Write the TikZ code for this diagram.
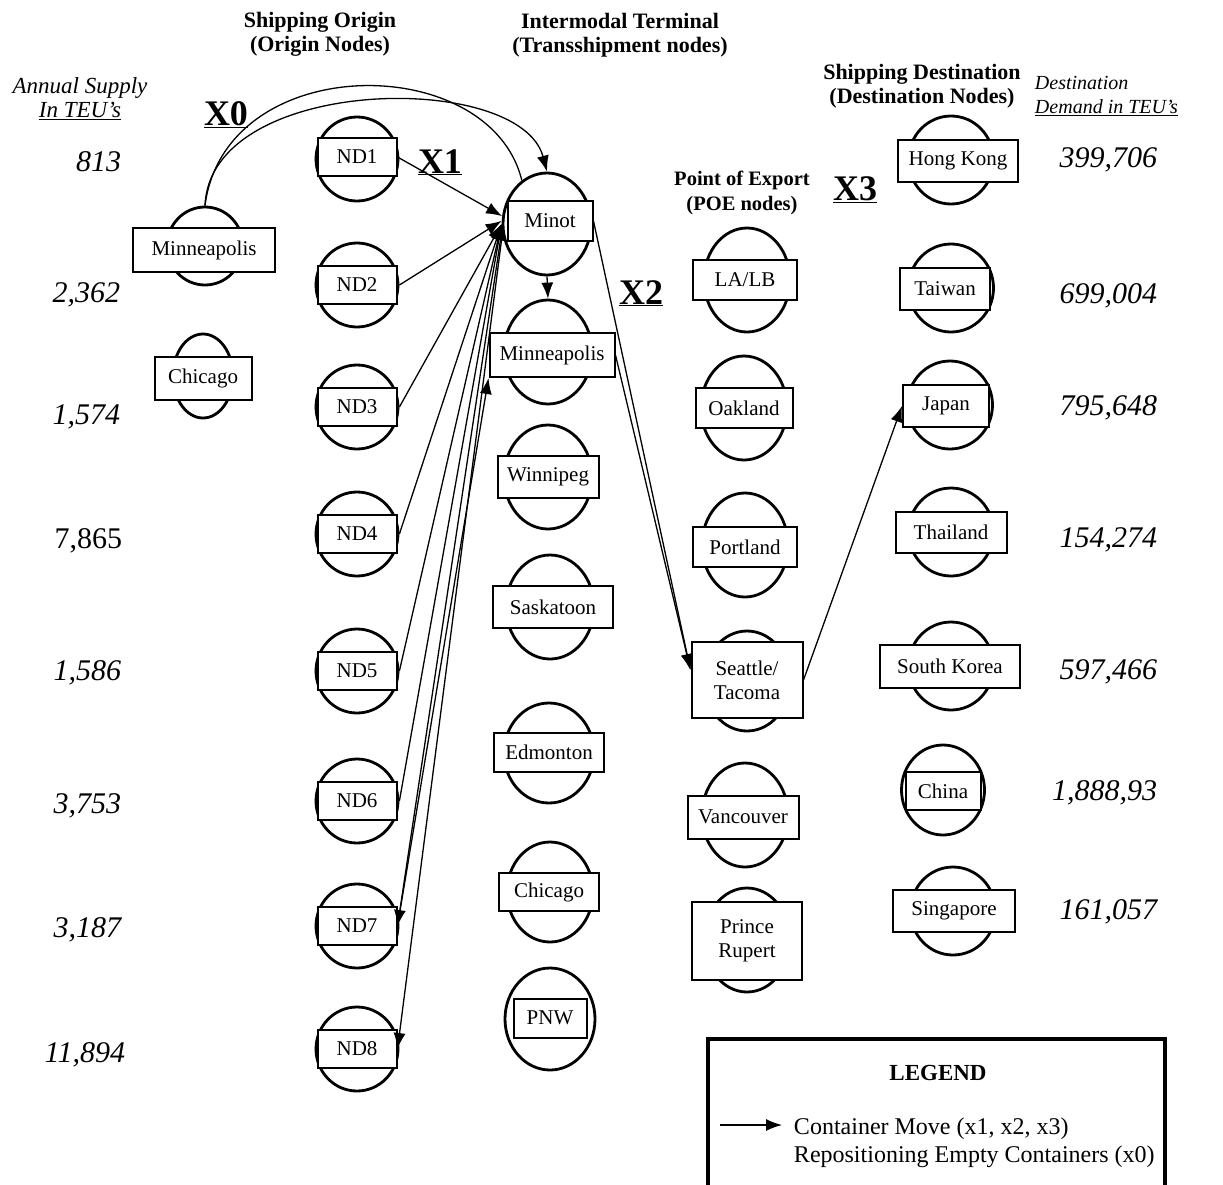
\documentclass[tikz,border=0pt]{standalone}
\usepackage{fontspec}
\setmainfont{Liberation Serif}
\usetikzlibrary{shapes,arrows.meta}

\begin{document}
\begin{tikzpicture}
[x=1pt,y=-1pt,line width=1.3pt,>={Latex[length=16pt,width=12pt]},
 ring/.style={draw,ellipse,line width=2.8pt,inner sep=0pt},
 tag/.style={draw,fill=white,line width=2pt,inner sep=0pt,align=center,font=\fontsize{21}{24}\selectfont},
 head/.style={align=center,font=\bfseries\fontsize{22}{24}\selectfont},
 side/.style={align=center,font=\itshape\fontsize{23}{24}\selectfont},
 amt/.style={font=\itshape\fontsize{30}{32}\selectfont},
 xlab/.style={anchor=base,font=\bfseries\fontsize{36}{38}\selectfont}]

\useasboundingbox (0,0) rectangle (1223,1184);

% headings
\node[head] (hOrig) at (320,34) {Shipping Origin\\(Origin Nodes)};
\node[head] (hTerm) at (620,35) {Intermodal Terminal\\(Transshipment nodes)};
\node[head,font=\bfseries\fontsize{20.5}{25}\selectfont] (hPoe) at (742,193) {Point of Export\\(POE nodes)};
\node[head] (hDest) at (922,86) {Shipping Destination\\(Destination Nodes)};
\node[side] (hSup) at (80,99) {Annual Supply\\\underline{In TEU's}};
\node[side,align=left,anchor=west,font=\itshape\fontsize{20}{24}\selectfont] (hDem) at (1031,96) {Destination\\\underline{Demand in TEU's}};

\node[xlab] (x0) at (226,125) {\underline{X0}};
\node[xlab] (x1) at (440,173) {\underline{X1}};
\node[xlab] (x2) at (641,304) {\underline{X2}};
\node[xlab] (x3) at (855,200) {\underline{X3}};

% supply
\node[amt,anchor=east] (s1) at (125,162) {813};
\node[amt,anchor=east] (s2) at (124,295) {2,362};
\node[amt,anchor=east] (s3) at (124,417) {1,574};
\node[amt,anchor=east,font=\upshape\fontsize{30}{32}\selectfont] (s4) at (126,541) {7,865};
\node[amt,anchor=east] (s5) at (125,673) {1,586};
\node[amt,anchor=east] (s6) at (125,806) {3,753};
\node[amt,anchor=east] (s7) at (125,930) {3,187};
\node[amt,anchor=east] (s8) at (129,1055) {11,894};

% demand
\node[amt,anchor=east] (d1) at (1161,160) {399,706};
\node[amt,anchor=east] (d2) at (1161,296) {699,004};
\node[amt,anchor=east] (d3) at (1161,408) {795,648};
\node[amt,anchor=east] (d4) at (1161,540) {154,274};
\node[amt,anchor=east] (d5) at (1161,672) {597,466};
\node[amt,anchor=east] (d6) at (1161,793) {1,888,93};
\node[amt,anchor=east] (d7) at (1161,912) {161,057};

% origin cities
\node[ring,minimum width=76pt,minimum height=78pt] (min0c) at (205,246) {};
\node[tag,minimum width=142pt,minimum height=44pt] (min0) at (204,250) {Minneapolis};
\node[ring,minimum width=60pt,minimum height=84pt] (chi0c) at (203,376) {};
\node[tag,minimum width=97pt,minimum height=43pt] (chi0) at (203,378) {Chicago};

% origin nodes
\node[ring,minimum width=82pt,minimum height=84pt] (nd1c) at (357,159) {};
\node[ring,minimum width=82pt,minimum height=84pt] (nd2c) at (357,285) {};
\node[ring,minimum width=82pt,minimum height=84pt] (nd3c) at (357,407) {};
\node[ring,minimum width=82pt,minimum height=84pt] (nd4c) at (357,534) {};
\node[ring,minimum width=82pt,minimum height=84pt] (nd5c) at (357,671) {};
\node[ring,minimum width=82pt,minimum height=84pt] (nd6c) at (357,801) {};
\node[ring,minimum width=82pt,minimum height=84pt] (nd7c) at (357,926) {};
\node[ring,minimum width=82pt,minimum height=84pt] (nd8c) at (357,1049) {};
\node[tag,minimum width=79pt,minimum height=38pt] (nd1) at (357,157) {ND1};
\node[tag,minimum width=79pt,minimum height=38pt] (nd2) at (357,285) {ND2};
\node[tag,minimum width=79pt,minimum height=38pt] (nd3) at (357,407) {ND3};
\node[tag,minimum width=79pt,minimum height=38pt] (nd4) at (357,534) {ND4};
\node[tag,minimum width=79pt,minimum height=38pt] (nd5) at (357,671) {ND5};
\node[tag,minimum width=79pt,minimum height=38pt] (nd6) at (357,801) {ND6};
\node[tag,minimum width=79pt,minimum height=38pt] (nd7) at (357,926) {ND7};
\node[tag,minimum width=79pt,minimum height=38pt] (nd8) at (357,1049) {ND8};

% terminals
\node[ring,minimum width=88pt,minimum height=102pt] (minotc) at (547,224) {};
\node[ring,minimum width=88pt,minimum height=104pt] (mplsTc) at (548,352) {};
\node[ring,minimum width=88pt,minimum height=104pt] (winc) at (548,477) {};
\node[ring,minimum width=88pt,minimum height=104pt] (sasc) at (550,607) {};
\node[ring,minimum width=90pt,minimum height=100pt] (edmc) at (549,753) {};
\node[ring,minimum width=86pt,minimum height=100pt] (chiTc) at (550,892) {};
\node[ring,minimum width=90pt,minimum height=102pt] (pnwc) at (550,1019) {};
\node[tag,minimum width=85pt,minimum height=40pt] (minot) at (550,221) {Minot};
\node[tag,minimum width=125pt,minimum height=44pt] (mplsT) at (552,355) {Minneapolis};
\node[tag,minimum width=101pt,minimum height=42pt] (win) at (548,477) {Winnipeg};
\node[tag,minimum width=120pt,minimum height=42pt] (sas) at (553,607) {Saskatoon};
\node[tag,minimum width=110pt,minimum height=39pt] (edm) at (549,752) {Edmonton};
\node[tag,minimum width=100pt,minimum height=38pt] (chiT) at (549,892) {Chicago};
\node[tag,minimum width=73pt,minimum height=39pt] (pnw) at (550,1018) {PNW};

% ports of export
\node[ring,minimum width=86pt,minimum height=104pt] (lac) at (747,280) {};
\node[ring,minimum width=86pt,minimum height=104pt] (oakc) at (744,408) {};
\node[ring,minimum width=86pt,minimum height=104pt] (porc) at (745,545) {};
\node[ring,minimum width=86pt,minimum height=100pt] (seac) at (747,681) {};
\node[ring,minimum width=86pt,minimum height=104pt] (vanc) at (745,815) {};
\node[ring,minimum width=86pt,minimum height=104pt] (prc) at (747,940) {};
\node[tag,minimum width=104pt,minimum height=40pt] (la) at (745,280) {LA/LB};
\node[tag,minimum width=97pt,minimum height=40pt] (oak) at (744,408) {Oakland};
\node[tag,minimum width=104pt,minimum height=40pt] (por) at (745,547) {Portland};
\node[tag,minimum width=111pt,minimum height=76pt] (sea) at (747,680) {Seattle/\\Tacoma};
\node[tag,minimum width=111pt,minimum height=43pt] (van) at (743,817) {Vancouver};
\node[tag,minimum width=110pt,minimum height=78pt] (pr) at (747,941) {Prince\\Rupert};

% destinations
\node[ring,minimum width=85pt,minimum height=88pt] (hkc) at (951,160) {};
\node[ring,minimum width=85pt,minimum height=88pt] (twc) at (951,288) {};
\node[ring,minimum width=85pt,minimum height=88pt] (jpc) at (950,405) {};
\node[ring,minimum width=85pt,minimum height=88pt] (thc) at (951,532) {};
\node[ring,minimum width=85pt,minimum height=88pt] (skc) at (951,666) {};
\node[ring,minimum width=83pt,minimum height=90pt] (cnc) at (943,790) {};
\node[ring,minimum width=85pt,minimum height=88pt] (sgc) at (953,911) {};
\node[tag,minimum width=120pt,minimum height=42pt] (hk) at (958,161) {Hong Kong};
\node[tag,minimum width=90pt,minimum height=42pt] (tw) at (945,289) {Taiwan};
\node[tag,minimum width=86pt,minimum height=42pt] (jp) at (946,406) {Japan};
\node[tag,minimum width=111pt,minimum height=41pt] (th) at (951,532) {Thailand};
\node[tag,minimum width=140pt,minimum height=43pt] (sk) at (950,666) {South Korea};
\node[tag,minimum width=75pt,minimum height=38pt] (cn) at (943,791) {China};
\node[tag,minimum width=122pt,minimum height=42pt] (sg) at (954,911) {Singapore};

% x0 empties
\draw[->] (min0c.north) .. controls (210,75) and (520,70) .. (minotc.north);
\draw (min0c.north) .. controls (225,50) and (490,50) .. (minotc.120);

% x1 moves
\draw[->] (nd1.east) -- (minotc.170);
\draw[->] (nd2c.east) -- (minotc.176);
\draw[->] (nd3c.east) -- (minotc.west);
\draw[->] (nd4c.east) -- (minotc.west);
\draw[->] (nd5c.east) -- (minotc.west);
\draw[->] (nd6c.east) -- (minotc.west);
\draw[->] (minotc.188) -- (nd7.east);
\draw[->] (nd7.east) -- (mplsT.south west);
\draw[->] (minotc.192) -- (nd8.east);
\draw[->] (minotc.south) -- (mplsTc.north);

% x2, x3
\draw[->] (minot.east) -- (sea.170);
\draw[->] (mplsT.east) -- (sea.170);
\draw[->] (sea.east) -- (jp.west);

% legend
\draw[line width=4.5pt] (708,1039) rectangle (1165,1200);
\node[font=\bfseries\fontsize{23}{25}\selectfont] (lgnd) at (938,1073) {LEGEND};
\coordinate (lgA) at (720,1125);
\coordinate (lgB) at (782,1125);
\draw[->] (lgA) -- (lgB);
\node[anchor=west,align=left,font=\fontsize{24}{28}\selectfont] (lgtxt) at (790,1143) {Container Move (x1, x2, x3)\\Repositioning Empty Containers (x0)};
\end{tikzpicture}
\end{document}
